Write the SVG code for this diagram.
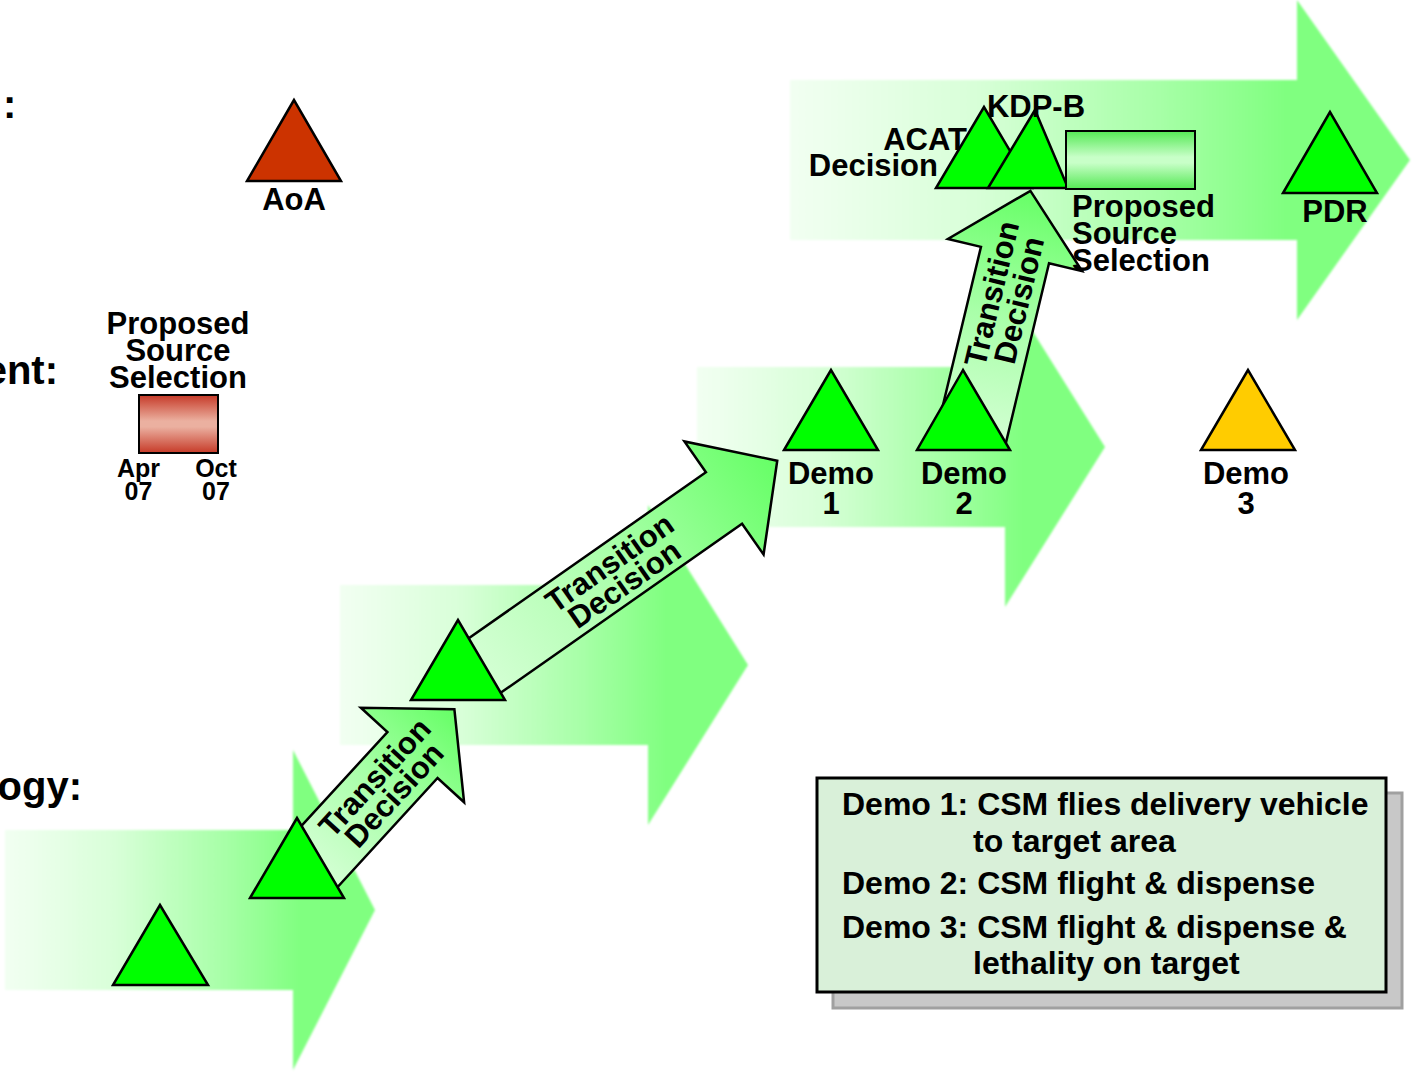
<svg xmlns="http://www.w3.org/2000/svg" width="1423" height="1075" viewBox="0 0 1423 1075">
<defs>
<linearGradient id="bgGrad" x1="0" y1="0" x2="1" y2="0">
<stop offset="0" stop-color="#F2FFF2"/>
<stop offset="0.3" stop-color="#D8FFD8"/>
<stop offset="0.6" stop-color="#A6FFA6"/>
<stop offset="0.8" stop-color="#80FF80"/>
<stop offset="1" stop-color="#80FF80"/>
</linearGradient>
<linearGradient id="taGrad" x1="0" y1="0" x2="1" y2="0">
<stop offset="0" stop-color="#D4FFD4"/>
<stop offset="0.5" stop-color="#A8FFA8"/>
<stop offset="1" stop-color="#66FF66"/>
</linearGradient>
<linearGradient id="redGrad" x1="0" y1="0" x2="0" y2="1">
<stop offset="0" stop-color="#C63A28"/>
<stop offset="0.45" stop-color="#EBB0A0"/>
<stop offset="0.55" stop-color="#EBB0A0"/>
<stop offset="1" stop-color="#C63A28"/>
</linearGradient>
<linearGradient id="greenGrad" x1="0" y1="0" x2="0" y2="1">
<stop offset="0" stop-color="#55E855"/>
<stop offset="0.45" stop-color="#C8FFC8"/>
<stop offset="0.55" stop-color="#C8FFC8"/>
<stop offset="1" stop-color="#55E855"/>
</linearGradient>
<filter id="soft" x="-5%" y="-5%" width="110%" height="110%">
<feGaussianBlur stdDeviation="1.2"/>
</filter>
</defs>
<style>
text { font-family: "Liberation Sans", Arial, sans-serif; font-weight: bold; fill: #000; }
.lbl { font-size: 31px; }
.mid { text-anchor: middle; }
.end { text-anchor: end; }
.side { font-size: 40px; }
.small { font-size: 25px; }
.leg { font-size: 32px; }
.ta { font-size: 31px; text-anchor: middle; }
.bg { fill: url(#bgGrad); filter: url(#soft); }
.tri { fill: #00FF00; stroke: #000; stroke-width: 2.5; stroke-linejoin: miter; }
.taArrow { fill: url(#taGrad); stroke: #000; stroke-width: 2.5; }
</style>

<rect width="1423" height="1075" fill="#FFFFFF"/>

<g id="phase-arrows">
<path class="bg" d="M5,830 H293 V750 L375,910 L293,1070 V990 H5 Z"/>
<path class="bg" d="M340,585 H648 V505 L748,665 L648,825 V745 H340 Z"/>
<path class="bg" d="M697,367 H1005 V287 L1105,447 L1005,607 V527 H697 Z"/>
<path class="bg" d="M790,80 H1297 V0 L1410,160 L1297,320 V240 H790 Z"/>
</g>

<g id="side-labels">
<text class="side" x="3" y="118">:</text>
<text class="side end" x="58" y="384">ent:</text>
<text class="side end" x="82" y="800">ogy:</text>
</g>

<g id="connectors">
<g id="transition-1" transform="translate(412.5,755) rotate(-47.5)">
<path class="taArrow" d="M-150,-34 H0 V-70 L62,0 L0,70 V34 H-150 Z"/>
<text class="ta" x="-42" y="-2">Transition</text>
<text class="ta" x="-42" y="24">Decision</text>
</g>
<g id="transition-2" transform="translate(724,498) rotate(-35)">
<path class="taArrow" d="M-300,-31.5 H0 V-69 L65,0 L0,69 V31.5 H-300 Z"/>
<text class="ta" x="-131" y="-2">Transition</text>
<text class="ta" x="-131" y="24">Decision</text>
</g>
<g id="transition-3" transform="translate(1015,255) rotate(-76.5)">
<path class="taArrow" d="M-190,-35 H0 V-69 L66,0 L0,69 V35 H-190 Z"/>
<text class="ta" x="-43" y="-3">Transition</text>
<text class="ta" x="-43" y="25">Decision</text>
</g>
</g>

<g id="aoa">
<polygon points="294,100 247,181 341,181" fill="#CC3300" stroke="#000" stroke-width="2.5"/>
<text class="lbl mid" x="294" y="210">AoA</text>
</g>

<g id="source-selection-left">
<text class="lbl mid" x="178" y="334">Proposed</text>
<text class="lbl mid" x="178" y="361">Source</text>
<text class="lbl mid" x="178" y="388">Selection</text>
<rect x="139" y="395" width="79" height="58" fill="url(#redGrad)" stroke="#000" stroke-width="2"/>
<text class="small mid" x="138.5" y="477">Apr</text>
<text class="small mid" x="138.5" y="500">07</text>
<text class="small mid" x="216" y="477">Oct</text>
<text class="small mid" x="216" y="500">07</text>
</g>

<g id="milestone-1">
<polygon class="tri" points="160,905 113,985 208,985"/>
</g>
<g id="milestone-2">
<polygon class="tri" points="297,818 250,898 344,898"/>
</g>
<g id="milestone-3">
<polygon class="tri" points="458,620 411,700 505,700"/>
</g>

<g id="demo-1">
<polygon class="tri" points="831,370 784,450 878,450"/>
<text class="lbl mid" x="831" y="484">Demo</text>
<text class="lbl mid" x="831" y="514">1</text>
</g>
<g id="demo-2">
<polygon class="tri" points="963,370 917,450 1010,450"/>
<text class="lbl mid" x="964" y="484">Demo</text>
<text class="lbl mid" x="964" y="514">2</text>
</g>
<g id="demo-3">
<polygon points="1248,370 1201,450 1295,450" fill="#FFCC00" stroke="#000" stroke-width="2.5"/>
<text class="lbl mid" x="1246" y="484">Demo</text>
<text class="lbl mid" x="1246" y="514">3</text>
</g>

<g id="acat-decision">
<polygon class="tri" points="984,107 936,188 1032,188"/>
<text class="lbl end" x="967" y="150">ACAT</text>
<text class="lbl end" x="938" y="176">Decision</text>
</g>
<g id="kdp-b">
<polygon class="tri" points="1035,110 988,188 1068,188"/>
<text class="lbl mid" x="1036" y="117">KDP-B</text>
</g>
<g id="source-selection-right">
<rect x="1066" y="131" width="129" height="58" fill="url(#greenGrad)" stroke="#000" stroke-width="2"/>
<text class="lbl" x="1072" y="217">Proposed</text>
<text class="lbl" x="1072" y="244">Source</text>
<text class="lbl" x="1072" y="271">Selection</text>
</g>
<g id="pdr">
<polygon class="tri" points="1330,112 1283,193 1377,193"/>
<text class="lbl mid" x="1335" y="222">PDR</text>
</g>

<g id="legend">
<rect x="833" y="793" width="569" height="215" fill="#C8C8C8" stroke="#A0A0A0" stroke-width="3"/>
<rect x="817" y="778" width="569" height="214" fill="#D9F0D9" stroke="#000" stroke-width="3"/>
<text class="leg" x="842" y="815">Demo 1: CSM flies delivery vehicle</text>
<text class="leg" x="973" y="852">to target area</text>
<text class="leg" x="842" y="894">Demo 2: CSM flight &amp; dispense</text>
<text class="leg" x="842" y="938">Demo 3: CSM flight &amp; dispense &amp;</text>
<text class="leg" x="973" y="974">lethality on target</text>
</g>
</svg>
